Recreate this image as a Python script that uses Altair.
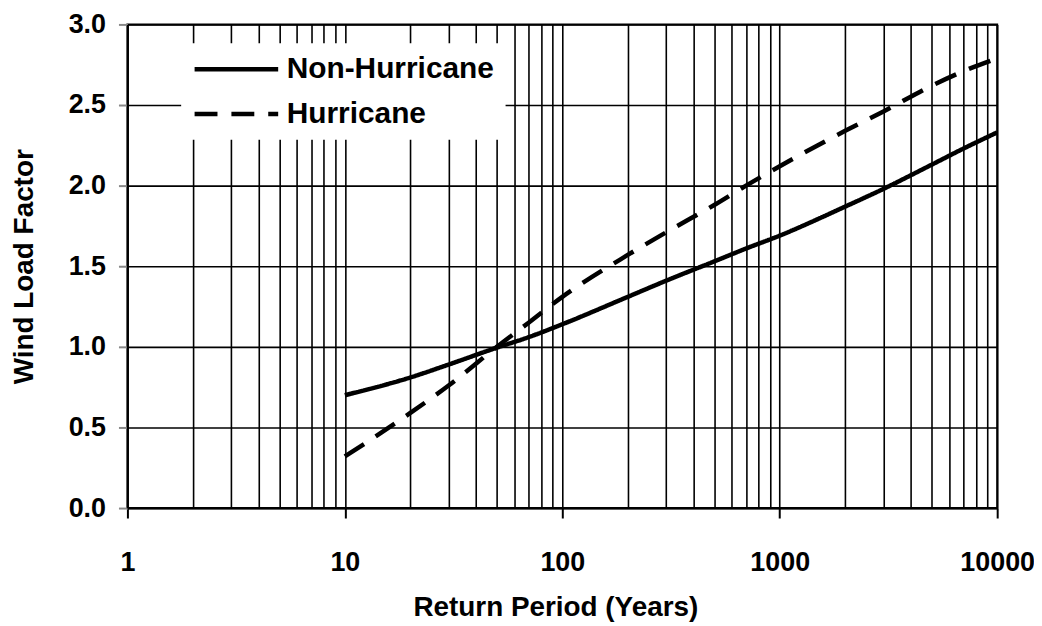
import altair as alt
import pandas as pd

# Return periods (years) at which the curves were read
periods = [10, 20, 30, 50, 70, 100, 200, 300, 500, 700, 1000, 2000, 3000, 5000, 7000, 10000]
non_hurricane = [0.70, 0.81, 0.89, 0.995, 1.06, 1.14, 1.31, 1.41, 1.53, 1.61, 1.69, 1.87, 1.98, 2.13, 2.23, 2.33]
hurricane = [0.32, 0.59, 0.76, 1.00, 1.15, 1.31, 1.57, 1.71, 1.88, 2.00, 2.12, 2.34, 2.46, 2.62, 2.71, 2.79]
series_names = ["Non-Hurricane", "Hurricane"]

x_grid_values = [m * 10 ** k for k in range(4) for m in range(1, 10)] + [10000]
y_tick_values = [0.0, 0.5, 1.0, 1.5, 2.0, 2.5, 3.0]

df = pd.DataFrame({
    "period": periods + periods,
    "factor": non_hurricane + hurricane,
    "series": [series_names[0]] * len(periods) + [series_names[1]] * len(periods),
})

pow10 = "abs(log(datum.value)/LN10 - round(log(datum.value)/LN10)) < 0.001"
FONT = "Liberation Sans"

chart = alt.Chart(df).mark_line(
    color="black", strokeWidth=4.5, strokeCap="butt", interpolate="monotone"
).encode(
    x=alt.X(
        "period:Q",
        scale=alt.Scale(type="log", domain=[1, 10000], nice=False),
        axis=alt.Axis(
            values=x_grid_values,
            format="d",
            labelExpr=f"({pow10}) ? datum.label : ''",
            tickColor={"condition": {"test": pow10, "value": "black"}, "value": "transparent"},
            tickSize=10,
            labelBaseline="alphabetic",
            labelPadding=53,
            labelFlush=False,
            labelOverlap=False,
            title="Return Period (Years)",
            titleX=430,
            titleY=108,
            titleBaseline="alphabetic",
        ),
    ),
    y=alt.Y(
        "factor:Q",
        scale=alt.Scale(domain=[0, 3], nice=False),
        axis=alt.Axis(
            values=y_tick_values,
            format=".1f",
            tickSize=9,
            labelPadding=13,
            title="Wind Load Factor",
            titleX=-103,
            titleY=243,
            titleAngle=270,
            titleAlign="center",
            titleBaseline="middle",
        ),
    ),
    strokeDash=alt.StrokeDash(
        "series:N",
        scale=alt.Scale(domain=series_names, range=[[1, 0], [23, 14]]),
        legend=alt.Legend(
            title=None,
            orient="none",
            legendX=54,
            legendY=19,
            fillColor="white",
            padding=11,
            symbolType="stroke",
            symbolSize=7056,
            symbolStrokeWidth=4.5,
            symbolStrokeColor="black",
            clipHeight=30,
            rowPadding=15,
            labelOffset=6,
            labelFont=FONT,
            labelFontWeight="bold",
            labelFontSize=30,
            labelColor="black",
            labelLimit=400,
        ),
    ),
).properties(
    width=874,
    height=486,
    autosize=alt.AutoSizeParams(type="none"),
    padding={"left": 120, "top": 15, "right": 37, "bottom": 113},
    background="white",
).configure_axis(
    labelFont=FONT,
    labelFontWeight="bold",
    labelFontSize=27,
    labelColor="black",
    titleFont=FONT,
    titleFontWeight="bold",
    titleFontSize=28,
    titleColor="black",
    domainColor="black",
    domainWidth=2,
    gridColor="black",
    gridWidth=1.6,
    gridOpacity=1,
    tickWidth=2,
).configure_view(
    stroke="black",
    strokeWidth=2,
)

chart.save("out.html", embed_options={"renderer": "svg", "actions": False})
